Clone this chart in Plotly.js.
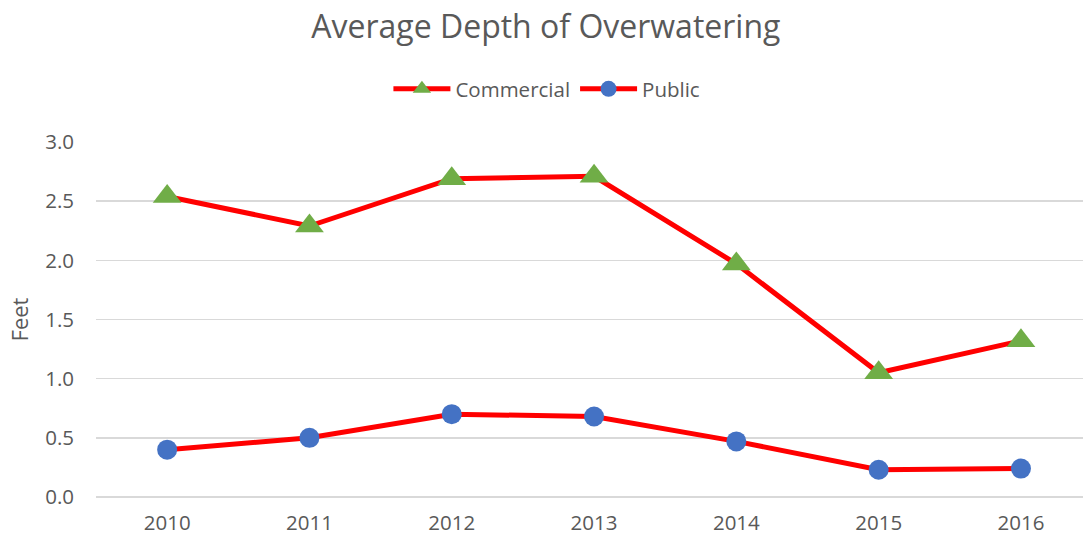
<!DOCTYPE html>
<html>
<head>
<meta charset="utf-8">
<script src="https://cdn.plot.ly/plotly-3.0.1.min.js"></script>
<style>html,body{margin:0;padding:0;background:#fff;}#chart{width:1083px;height:538px;}</style>
</head>
<body>
<div id="chart"></div>
<script>
const years = ["2010", "2011", "2012", "2013", "2014", "2015", "2016"];
const commercial = [2.54, 2.29, 2.69, 2.71, 1.97, 1.05, 1.32];
const publicVals = [0.40, 0.50, 0.70, 0.68, 0.47, 0.23, 0.24];
const yTicks = [0, 0.5, 1.0, 1.5, 2.0, 2.5, 3.0];
const yTickText = ["0.0", "0.5", "1.0", "1.5", "2.0", "2.5", "3.0"];

const FONT = "Open Sans, Noto Sans, sans-serif";
const GREY = "#595959";

const traces = [
  {
    x: years, y: commercial, name: "Commercial", type: "scatter", mode: "lines+markers",
    line: {color: "#FF0000", width: 5},
    marker: {symbol: "triangle-up", size: 25, color: "#70AD47"}
  },
  {
    x: years, y: publicVals, name: "Public", type: "scatter", mode: "lines+markers",
    line: {color: "#FF0000", width: 5},
    marker: {symbol: "circle", size: 20, color: "#4472C4"}
  }
];

const layout = {
  width: 1083, height: 538,
  paper_bgcolor: "#fff", plot_bgcolor: "#fff",
  margin: {l: 96, r: 0, t: 142, b: 41},
  font: {family: FONT, color: GREY},
  title: {text: "Average Depth of Overwatering", font: {size: 32, color: GREY, family: FONT},
          x: 0.504, xref: "container", xanchor: "center", y: 1 - 27/538, yref: "container", yanchor: "middle"},
  showlegend: true,
  legend: {orientation: "h", x: 0.505, xanchor: "center", xref: "container",
           y: 1 - 89/538, yref: "container", yanchor: "middle",
           font: {size: 20.5, color: GREY}, itemwidth: 57, tracegroupgap: 0},
  xaxis: {
    type: "category", range: [-0.5, 6.436], showgrid: false, zeroline: false,
    showline: false, ticks: "", tickfont: {size: 20.5, color: GREY},
    ticklabelstandoff: 11, fixedrange: true
  },
  yaxis: {
    range: [0, 3], tickvals: yTicks, ticktext: yTickText,
    showgrid: true, gridcolor: "#D9D9D9", gridwidth: 1.5,
    zeroline: true, zerolinecolor: "#D9D9D9", zerolinewidth: 1.5,
    showline: false, ticks: "",
    tickfont: {size: 20.5, color: GREY}, ticklabelstandoff: 21,
    title: {text: "Feet", font: {size: 22, color: GREY}, standoff: 10}
  }
};

Plotly.newPlot("chart", traces, layout, {displayModeBar: false, staticPlot: true});
</script>
</body>
</html>
